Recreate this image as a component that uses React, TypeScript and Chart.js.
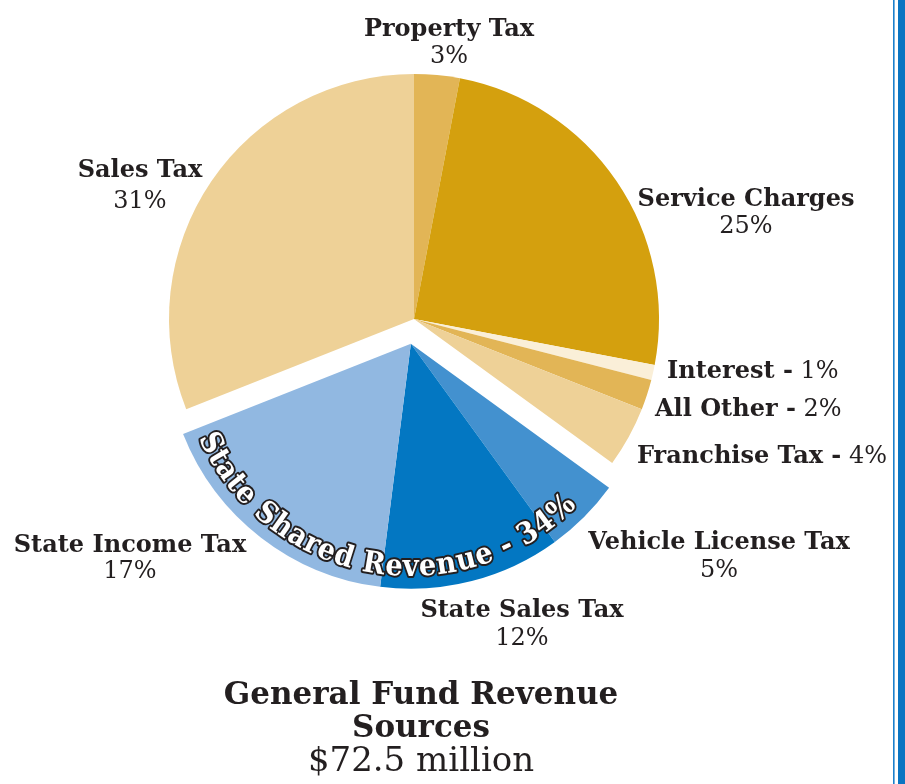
import React, { useEffect, useRef } from 'react';
import { Chart, registerables } from 'chart.js';

Chart.register(...registerables);

// ---------- data ----------
const categories = [
  'Property Tax',
  'Service Charges',
  'Interest',
  'All Other',
  'Franchise Tax',
  'Vehicle License Tax',
  'State Sales Tax',
  'State Income Tax',
  'Sales Tax',
];
const shares = [3, 25, 1, 2, 4, 5, 12, 17, 31];
const sliceColors = [
  '#E2B556',
  '#D4A00E',
  '#FAEFD8',
  '#E2B556',
  '#EED197',
  '#4391CF',
  '#0377C2',
  '#91B8E1',
  '#EED197',
];
const sharedGroup = [5, 6, 7];
const groupLabel = 'State Shared Revenue - 34%';
const titleLines = ['General Fund Revenue', 'Sources'];
const subtitleText = '$72.5 million';

// ---------- styling / layout ----------
const BOLD = "bold 24px 'DejaVu Serif'";
const REG = "24px 'DejaVu Serif'";
const GROUP_OFFSET = 25;
const TEXT = '#231F20';

type Lab = { mode: 'stack' | 'inline'; x: number; y: number; y2?: number };
const labelLayout: Lab[] = [
  { mode: 'stack', x: 449, y: 36, y2: 63 },
  { mode: 'stack', x: 746, y: 206, y2: 233 },
  { mode: 'inline', x: 667, y: 378 },
  { mode: 'inline', x: 655, y: 416 },
  { mode: 'inline', x: 637, y: 463 },
  { mode: 'stack', x: 719, y: 549, y2: 577 },
  { mode: 'stack', x: 522, y: 617, y2: 645 },
  { mode: 'stack', x: 130, y: 552, y2: 578 },
  { mode: 'stack', x: 140, y: 177, y2: 208 },
];

function groupShift(chart: any) {
  const meta = chart.getDatasetMeta(0);
  const a = meta.data[sharedGroup[0]];
  const b = meta.data[sharedGroup[sharedGroup.length - 1]];
  const mid = (a.startAngle + b.endAngle) / 2;
  return { dx: Math.cos(mid) * GROUP_OFFSET, dy: Math.sin(mid) * GROUP_OFFSET, mid, cx: a.x, cy: a.y, r: a.outerRadius };
}

const groupPlugin = {
  id: 'groupShift',
  beforeDatasetsDraw(chart: any) {
    const meta = chart.getDatasetMeta(0);
    sharedGroup.forEach((i) => {
      const el: any = meta.data[i];
      if (!el || el.__patched) return;
      const orig = el.draw;
      el.draw = function (ctx: CanvasRenderingContext2D, area: any) {
        const s = groupShift(chart);
        ctx.save();
        ctx.translate(s.dx, s.dy);
        orig.call(this, ctx, area);
        ctx.restore();
      };
      el.__patched = true;
    });
  },
};

function drawArcText(
  ctx: CanvasRenderingContext2D,
  text: string,
  cx: number,
  cy: number,
  rBase: number,
  midAngle: number,
  spanAngle: number,
  size: number
) {
  const chars = Array.from(text);
  ctx.font = `bold ${size}px 'DejaVu Serif'`;
  const rMid = rBase - size * 0.36;
  const raw = chars.map((c) => ctx.measureText(c).width);
  const rawTotal = raw.reduce((s, w) => s + w, 0);
  const hs = (spanAngle * rMid) / rawTotal;
  const widths = raw.map((w) => w * hs);
  const total = rawTotal * hs;
  const start = midAngle + total / rMid / 2;
  ctx.textAlign = 'center';
  ctx.textBaseline = 'alphabetic';
  ctx.lineJoin = 'round';
  for (const pass of ['stroke', 'fill']) {
    let a = start;
    chars.forEach((c, i) => {
      const ca = a - widths[i] / 2 / rMid;
      ctx.save();
      ctx.translate(cx + rBase * Math.cos(ca), cy + rBase * Math.sin(ca));
      ctx.rotate(ca - Math.PI / 2);
      ctx.scale(hs, 1);
      if (pass === 'stroke') {
        ctx.strokeStyle = '#231F20';
        ctx.lineWidth = 4;
        ctx.strokeText(c, 0, 0);
      } else {
        ctx.fillStyle = '#FFFFFF';
        ctx.fillText(c, 0, 0);
      }
      ctx.restore();
      a -= widths[i] / rMid;
    });
  }
}

const labelPlugin = {
  id: 'labels',
  afterDraw(chart: any) {
    const ctx: CanvasRenderingContext2D = chart.ctx;
    ctx.save();
    ctx.fillStyle = TEXT;
    ctx.textBaseline = 'alphabetic';
    categories.forEach((name, i) => {
      const L = labelLayout[i];
      const pct = `${shares[i]}%`;
      if (L.mode === 'stack') {
        ctx.textAlign = 'center';
        ctx.font = BOLD;
        ctx.fillText(name, L.x, L.y);
        ctx.font = REG;
        ctx.fillText(pct, L.x, L.y2 as number);
      } else {
        ctx.textAlign = 'left';
        ctx.font = BOLD;
        const head = `${name} -`;
        ctx.fillText(head, L.x, L.y);
        const w = ctx.measureText(head).width;
        ctx.font = REG;
        ctx.fillText(` ${pct}`, L.x + w, L.y);
      }
    });

    // title
    ctx.textAlign = 'center';
    ctx.font = "bold 31px 'DejaVu Serif'";
    ctx.fillText(titleLines[0], 421, 704);
    ctx.fillText(titleLines[1], 421, 737);
    ctx.font = "34px 'DejaVu Serif'";
    ctx.fillText(subtitleText, 421, 771);

    // curved group label
    const s = groupShift(chart);
    drawArcText(ctx, groupLabel, s.cx + s.dx, s.cy + s.dy, s.r - 13, s.mid + (3 * Math.PI) / 180, (112 * Math.PI) / 180, 30);

    // right border rules
    ctx.fillStyle = '#1C80CC';
    ctx.fillRect(893, 0, 1.6, chart.height);
    ctx.fillStyle = '#0A75C2';
    ctx.fillRect(898, 0, 7, chart.height);
    ctx.restore();
  },
};

export default function App() {
  const ref = useRef<HTMLCanvasElement | null>(null);
  useEffect(() => {
    if (!ref.current) return;
    const chart = new Chart(ref.current, {
      type: 'pie',
      data: {
        labels: categories,
        datasets: [
          {
            data: shares,
            backgroundColor: sliceColors,
            borderWidth: 0,
          },
        ],
      },
      options: {
        animation: false,
        responsive: false,
        devicePixelRatio: 1,
        layout: { padding: { left: 169, right: 246, top: 74, bottom: 220 } },
        plugins: {
          legend: { display: false },
          tooltip: { enabled: false },
          title: { display: false },
        },
      },
      plugins: [groupPlugin, labelPlugin],
    } as any);
    return () => chart.destroy();
  }, []);
  return (
    <div style={{ position: 'fixed', left: 0, top: 0, width: 905, height: 784, background: '#fff' }}>
      <canvas ref={ref} width={905} height={784} style={{ width: 905, height: 784, display: 'block' }} />
    </div>
  );
}
